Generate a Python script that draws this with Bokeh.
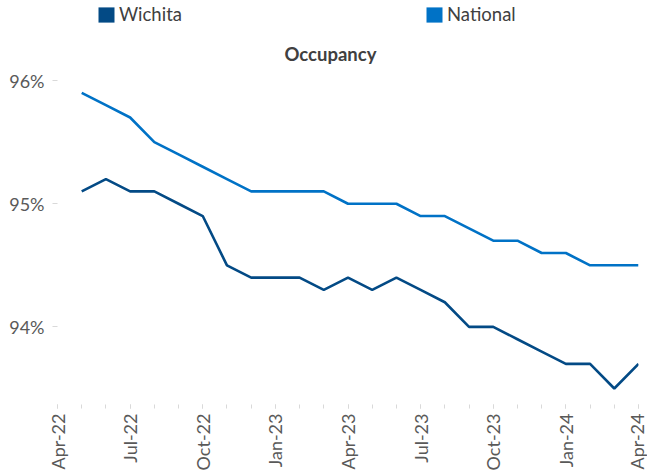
import math
from bokeh.plotting import figure
from bokeh.models import Range1d, FixedTicker, Legend, LegendItem, PrintfTickFormatter, Label
from bokeh.embed import file_html
from bokeh.resources import INLINE

months = ["Apr-22", "May-22", "Jun-22", "Jul-22", "Aug-22", "Sep-22", "Oct-22", "Nov-22",
          "Dec-22", "Jan-23", "Feb-23", "Mar-23", "Apr-23", "May-23", "Jun-23", "Jul-23",
          "Aug-23", "Sep-23", "Oct-23", "Nov-23", "Dec-23", "Jan-24", "Feb-24", "Mar-24", "Apr-24"]
tick_labels = ["Apr-22", "Jul-22", "Oct-22", "Jan-23", "Apr-23", "Jul-23", "Oct-23", "Jan-24", "Apr-24"]
# values from May-22 to Apr-24 (percent)
wichita = [95.1, 95.2, 95.1, 95.1, 95.0, 94.9, 94.5, 94.4, 94.4, 94.4, 94.3, 94.4,
           94.3, 94.4, 94.3, 94.2, 94.0, 94.0, 93.9, 93.8, 93.7, 93.7, 93.5, 93.7]
national = [95.9, 95.8, 95.7, 95.5, 95.4, 95.3, 95.2, 95.1, 95.1, 95.1, 95.1, 95.0,
            95.0, 95.0, 94.9, 94.9, 94.8, 94.7, 94.7, 94.6, 94.6, 94.5, 94.5, 94.5]
y_ticks = [94, 95, 96]
series_names = ["Wichita", "National"]
chart_title = "Occupancy"

C_W = "#034A85"
C_N = "#0072C6"
FONT = "Lato"
NAN = float("nan")

x_idx = [months.index(m) for m in months[1:]]

# frame spans the full height (the header sits inside the empty top of the frame)
p = figure(frame_width=581, frame_height=404, output_backend="svg", toolbar_location=None,
           title=None,
           x_range=Range1d(0, len(months) - 1), y_range=Range1d(93.37, 96.65),
           min_border_left=57, min_border_right=9, min_border_top=0, min_border_bottom=69)
p.outline_line_color = None
p.grid.visible = False
p.background_fill_color = "white"
p.border_fill_color = "white"

p.line(x_idx, wichita, line_color=C_W, line_width=2.6)
p.line(x_idx, national, line_color=C_N, line_width=2.6)

# legend swatches (not drawn in the plot area: NaN extents)
rw = p.quad(left=[NAN], right=[NAN], top=[NAN], bottom=[NAN], fill_color=C_W, line_color=None)
rn = p.quad(left=[NAN], right=[NAN], top=[NAN], bottom=[NAN], fill_color=C_N, line_color=None)

def mk_legend(label, r, loc):
    lg = Legend(items=[LegendItem(label=label, renderers=[r], index=0)], location=loc,
                orientation="horizontal", glyph_width=20, glyph_height=19,
                label_height=19, label_standoff=3, padding=0, margin=0, spacing=0,
                background_fill_alpha=0, border_line_color=None,
                label_text_font=FONT, label_text_font_size="18.5px",
                label_text_color="#404040")
    p.add_layout(lg, "center")

mk_legend(series_names[0], rw, (39, 379))
mk_legend(series_names[1], rn, (367, 379))

# chart title
p.add_layout(Label(x=273, y=351, x_units="screen", y_units="screen", text=chart_title,
                   text_align="center", text_baseline="alphabetic",
                   text_font=FONT, text_font_size="18.5px", text_font_style="bold",
                   text_color="#404040"))

# x axis
xa = p.xaxis[0]
xa.ticker = FixedTicker(ticks=[months.index(t) for t in tick_labels],
                        minor_ticks=list(range(len(months))))
xa.major_label_overrides = {months.index(t): t for t in tick_labels}
xa.axis_line_color = None
xa.major_tick_in = 0
xa.major_tick_out = 4
xa.minor_tick_in = 0
xa.minor_tick_out = 4
xa.major_tick_line_color = "#d9d9d9"
xa.minor_tick_line_color = "#d9d9d9"
xa.major_label_orientation = math.pi / 2
xa.major_label_standoff = 5
xa.major_label_text_font = FONT
xa.major_label_text_font_size = "18px"
xa.major_label_text_color = "#595959"

# y axis
ya = p.yaxis[0]
ya.ticker = FixedTicker(ticks=y_ticks)
ya.formatter = PrintfTickFormatter(format="%d%%")
ya.axis_line_color = None
ya.major_tick_in = 0
ya.major_tick_out = 5
ya.minor_tick_out = 0
ya.minor_tick_in = 0
ya.major_tick_line_color = "#d9d9d9"
ya.major_label_standoff = 8
ya.major_label_text_font = FONT
ya.major_label_text_font_size = "18px"
ya.major_label_text_color = "#595959"

open("out.html", "w").write(file_html(p, INLINE))
